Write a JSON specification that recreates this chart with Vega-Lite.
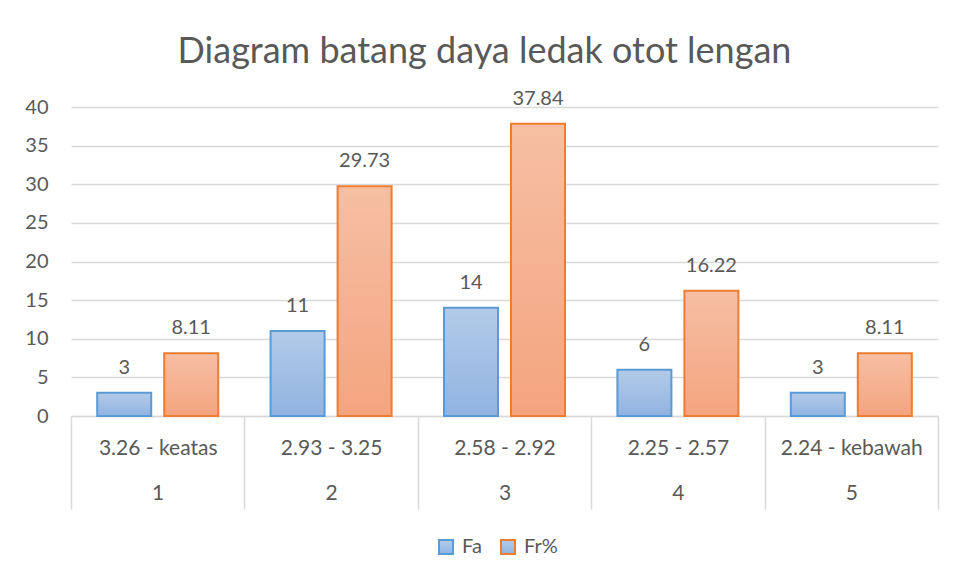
{
  "$schema": "https://vega.github.io/schema/vega-lite/v6.json",
  "width": 867,
  "height": 309,
  "autosize": "none",
  "padding": {"left": 71, "top": 107, "right": 20, "bottom": 165},
  "background": "white",
  "config": {
    "font": "Lato",
    "view": {"stroke": null},
    "axis": {"labelFont": "Lato", "labelColor": "#595959", "labelFontSize": 20}
  },
  "title": {
    "text": "Diagram batang daya ledak otot lengan",
    "font": "Lato",
    "fontSize": 36,
    "fontWeight": "normal",
    "color": "#595959",
    "anchor": "middle",
    "dx": -20,
    "offset": 18
  },
  "data": {
    "values": [
      {"kategori": "3.26 - keatas|1", "seri": "Fa", "nilai": 3},
      {"kategori": "3.26 - keatas|1", "seri": "Fr%", "nilai": 8.11},
      {"kategori": "2.93 - 3.25|2", "seri": "Fa", "nilai": 11},
      {"kategori": "2.93 - 3.25|2", "seri": "Fr%", "nilai": 29.73},
      {"kategori": "2.58 - 2.92|3", "seri": "Fa", "nilai": 14},
      {"kategori": "2.58 - 2.92|3", "seri": "Fr%", "nilai": 37.84},
      {"kategori": "2.25 - 2.57|4", "seri": "Fa", "nilai": 6},
      {"kategori": "2.25 - 2.57|4", "seri": "Fr%", "nilai": 16.22},
      {"kategori": "2.24 - kebawah|5", "seri": "Fa", "nilai": 3},
      {"kategori": "2.24 - kebawah|5", "seri": "Fr%", "nilai": 8.11}
    ]
  },
  "encoding": {
    "x": {
      "field": "kategori",
      "type": "nominal",
      "sort": null,
      "scale": {"paddingInner": 0, "paddingOuter": 0},
      "axis": {
        "title": null,
        "labelAngle": 0,
        "labelExpr": "datum.value ? split(datum.value, '|') : ''",
        "labelFontSize": 21,
        "labelLineHeight": 45,
        "labelBaseline": "top",
        "labelPadding": -72,
        "tickBand": "extent",
        "tickSize": 93,
        "tickColor": "#d9d9d9",
        "tickWidth": 1.5,
        "domainColor": "#d9d9d9",
        "domainWidth": 1.5,
        "grid": false
      }
    },
    "xOffset": {
      "field": "seri",
      "type": "nominal",
      "scale": {"domain": ["Fa", "Fr%"], "paddingInner": 0.194, "paddingOuter": 0.391}
    },
    "y": {
      "field": "nilai",
      "type": "quantitative",
      "scale": {"domain": [0, 40], "nice": false},
      "axis": {
        "title": null,
        "values": [0, 5, 10, 15, 20, 25, 30, 35, 40],
        "domain": false,
        "ticks": false,
        "tickSize": 0,
        "labelPadding": 23,
        "gridColor": "#d9d9d9",
        "gridWidth": 1.5
      }
    }
  },
  "layer": [
    {
      "transform": [{"filter": "datum.seri === 'Fa'"}],
      "mark": {
        "type": "bar",
        "strokeWidth": 2,
        "fill": {
          "gradient": "linear", "x1": 0, "y1": 0, "x2": 0, "y2": 1,
          "stops": [{"offset": 0, "color": "#b3cbe9"}, {"offset": 1, "color": "#90b3e1"}]
        }
      },
      "encoding": {
        "stroke": {
          "field": "seri",
          "type": "nominal",
          "scale": {"domain": ["Fa", "Fr%"], "range": ["#5b9bd5", "#ed7d31"]},
          "legend": {
            "title": null,
            "orient": "none",
            "legendX": 365,
            "legendY": 430,
            "direction": "horizontal",
            "symbolType": "square",
            "symbolSize": 196,
            "symbolStrokeWidth": 2,
            "labelFontSize": 20,
            "labelColor": "#595959",
            "labelFont": "Lato",
            "labelOffset": 6,
            "columnPadding": 15,
            "padding": 0,
            "encode": {
              "symbols": {
                "update": {
                  "fill": {"signal": "datum.value === 'Fa' ? '#a3bfe6' : '#f5b192'"},
                  "fillOpacity": {"value": 1},
                  "strokeWidth": {"value": 2}
                }
              }
            }
          }
        }
      }
    },
    {
      "transform": [{"filter": "datum.seri === 'Fr%'"}],
      "mark": {
        "type": "bar",
        "strokeWidth": 2,
        "fill": {
          "gradient": "linear", "x1": 0, "y1": 0, "x2": 0, "y2": 1,
          "stops": [{"offset": 0, "color": "#f6bfa3"}, {"offset": 1, "color": "#f4a47f"}]
        }
      },
      "encoding": {
        "stroke": {"field": "seri", "type": "nominal"}
      }
    },
    {
      "mark": {"type": "text", "baseline": "alphabetic", "dy": -19, "fontSize": 20, "color": "#595959", "font": "Lato"},
      "encoding": {
        "text": {"field": "nilai", "type": "quantitative"}
      }
    }
  ]
}
